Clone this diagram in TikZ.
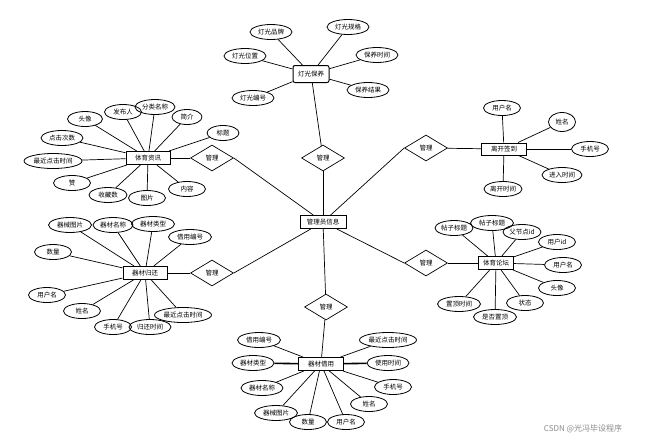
\documentclass[tikz,border=0pt]{standalone}
\usepackage{fontspec}
\newfontfamily\cjk{Noto Sans CJK SC}
\usetikzlibrary{shapes.geometric}
\begin{document}
\begin{tikzpicture}[x=1pt,y=-1pt,
  every node/.style={font=\cjk\fontsize{6.5}{7}\selectfont, inner sep=0pt},
  attr/.style={ellipse, draw, line width=0.8pt, minimum height=15pt, minimum width=#1},
  attr/.default=37pt,
  ent/.style={rectangle, draw, line width=1pt, minimum height=13pt, minimum width=#1},
  ent/.default=45pt,
  rel/.style={diamond, draw, line width=0.7pt, minimum width=43pt, minimum height=26pt},
  conn/.style={line width=0.7pt},
  thickconn/.style={line width=1.6pt}]
\useasboundingbox (0,0) rectangle (647,442);
\fill[white] (0,0) rectangle (647,442);

% central
\node[ent=46pt] (adm) at (323,222) {管理员信息};
\node[rel] (rt) at (323,158) {管理};
\node[rel] (rul) at (212,158) {管理};
\node[rel] (rll) at (212,273) {管理};
\node[rel] (rur) at (426,148) {管理};
\node[rel] (rlr) at (426,263) {管理};
\node[rel] (rb) at (326,307) {管理};

% 灯光保养
\node[ent=36pt, minimum height=17pt, rounded corners=2pt] (dg) at (311,74) {灯光保养};
\node[attr=42pt] (dg1) at (271,32) {灯光品牌};
\node[attr=42pt] (dg2) at (348,27) {灯光规格};
\node[attr=42pt] (dg3) at (245,56) {灯光位置};
\node[attr=42pt] (dg4) at (377,55) {保养时间};
\node[attr=42pt] (dg5) at (253,98) {灯光编号};
\node[attr=42pt] (dg6) at (368,90) {保养结果};

% 体育资讯
\node[ent=44pt] (zx) at (148,158) {体育资讯};
\node[attr=35pt] (zx1) at (85,119) {头像};
\node[attr=37pt] (zx2) at (123,112) {发布人};
\node[attr=40pt] (zx3) at (155,107) {分类名称};
\node[attr=30pt] (zx4) at (187,117) {简介};
\node[attr=32pt] (zx5) at (223,133) {标题};
\node[attr=42pt] (zx6) at (62,138) {点击次数};
\node[attr=58pt] (zx7) at (53,161) {最近点击时间};
\node[attr=37pt] (zx8) at (72,183) {赞};
\node[attr=38pt] (zx9) at (108,195) {收藏数};
\node[attr=37pt] (zx10) at (147,198) {图片};
\node[attr=37pt] (zx11) at (187,189) {内容};

% 器材归还
\node[ent=44pt] (gh) at (145,273) {器材归还};
\node[attr=43pt] (gh1) at (70,225) {器械图片};
\node[attr=40pt] (gh2) at (113,225) {器材名称};
\node[attr=43pt] (gh3) at (153,224) {器材类型};
\node[attr=43pt] (gh4) at (190,237) {借用编号};
\node[attr=37pt] (gh5) at (53,252) {数量};
\node[attr=37pt] (gh6) at (47,295) {用户名};
\node[attr=37pt] (gh7) at (82,311) {姓名};
\node[attr=37pt] (gh8) at (113,327) {手机号};
\node[attr=42pt] (gh9) at (150,327) {归还时间};
\node[attr=57pt] (gh10) at (183,315) {最近点击时间};

% 器材借用
\node[ent=45pt] (jy) at (321,364) {器材借用};
\node[attr=43pt] (jy1) at (259,340) {借用编号};
\node[attr=42pt] (jy2) at (253,363) {器材类型};
\node[attr=42pt] (jy3) at (262,388) {器材名称};
\node[attr=43pt] (jy4) at (276,413) {器械图片};
\node[attr=37pt] (jy5) at (308,422) {数量};
\node[attr=37pt] (jy6) at (346,422) {用户名};
\node[attr=37pt] (jy7) at (369,404) {姓名};
\node[attr=37pt] (jy8) at (393,387) {手机号};
\node[attr=42pt] (jy9) at (388,363) {使用时间};
\node[attr=57pt] (jy10) at (388,340) {最近点击时间};

% 离开签到
\node[ent=45pt, minimum height=12pt] (qd) at (504,149) {离开签到};
\node[attr=37pt] (qd1) at (502,108) {用户名};
\node[attr=27pt, minimum height=19pt] (qd2) at (562,122) {姓名};
\node[attr=37pt] (qd3) at (590,149) {手机号};
\node[attr=40pt] (qd4) at (562,175) {进入时间};
\node[attr=38pt] (qd5) at (503,189) {离开时间};

% 体育论坛
\node[ent=35pt] (lt) at (496,263) {体育论坛};
\node[attr=38pt] (lt1) at (454,228) {帖子标题};
\node[attr=43pt] (lt2) at (492,223) {帖子标题};
\node[attr=38pt] (lt3) at (522,232) {父节点id};
\node[attr=37pt] (lt4) at (557,242) {用户id};
\node[attr=37pt] (lt5) at (563,265) {用户名};
\node[attr=37pt] (lt6) at (557,288) {头像};
\node[attr=37pt] (lt7) at (525,303) {状态};
\node[attr=43pt] (lt8) at (495,317) {是否置顶};
\node[attr=43pt] (lt9) at (459,304) {置顶时间};

% connectors: relationships
\draw[conn] (adm) -- (rt);
\draw[conn] (adm) -- (rul.east);
\draw[conn] (adm) -- (rll.east);
\draw[conn] (adm) -- (rur.west);
\draw[conn] (adm) -- (rlr.west);
\draw[conn] (adm) -- (rb);
\draw[conn] (rt) -- (dg);
\draw[conn] (rul) -- (zx);
\draw[conn] (rll) -- (gh);
\draw[conn] (rur) -- (qd);
\draw[conn] (rlr) -- (lt);
\draw[conn] (rb) -- (jy);

% attributes
\foreach \i in {1,...,6} \draw[conn] (dg) -- (dg\i);
\foreach \i in {1,...,11} \draw[conn] (zx) -- (zx\i);
\foreach \i in {1,...,10} \draw[conn] (gh) -- (gh\i);
\foreach \i in {1,3,4,5,6,7,8,10} \draw[conn] (jy) -- (jy\i);
\draw[thickconn] (jy) -- (jy2);
\draw[thickconn] (jy) -- (jy9);
\foreach \i in {1,...,5} \draw[conn] (qd) -- (qd\i);
\foreach \i in {1,...,9} \draw[conn] (lt) -- (lt\i);

% watermark
\node[font=\cjk\fontsize{8}{9}\selectfont, text=black!45] (wm) at (583,429) {CSDN @光冯毕设程序};
\end{tikzpicture}
\end{document}
